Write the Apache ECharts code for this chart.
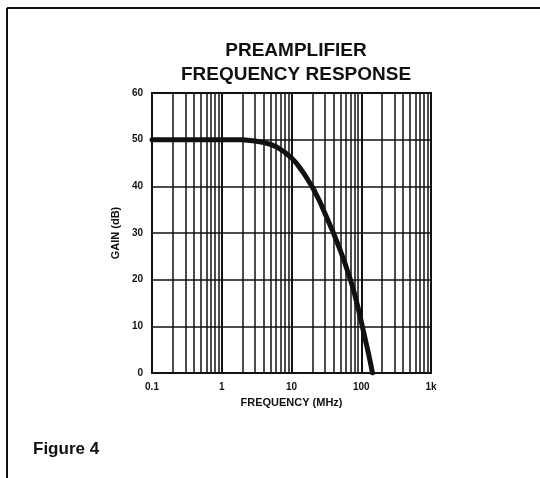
<!DOCTYPE html>
<html>
<head>
<meta charset="utf-8">
<script src="https://cdn.jsdelivr.net/npm/echarts@6/dist/echarts.min.js"></script>
<style>
html,body{margin:0;padding:0;background:#fff;}
#chart{width:540px;height:478px;}
</style>
</head>
<body>
<div id="chart"></div>
<script>
// Data
const freqMHz = [0.1, 0.5, 1, 2, 3, 4, 5, 6, 7, 8, 10, 12, 15, 20, 25, 30, 40, 50, 60, 70, 80, 90, 100, 115, 130, 145];
const gainDb  = [50, 50, 50, 50, 49.7, 49.4, 49.0, 48.5, 47.9, 47.3, 46.1, 44.8, 42.8, 39.8, 37, 34.3, 30, 26.3, 23, 20, 17, 14, 11, 7, 3.5, 0];
const yTicks = [0, 10, 20, 30, 40, 50, 60];
const xTickLabels = {0.1: '0.1', 1: '1', 10: '10', 100: '100', 1000: '1k'};
const minorFreqs = [0.2,0.3,0.4,0.5,0.6,0.7,0.8,0.9, 2,3,4,5,6,7,8,9, 20,30,40,50,60,70,80,90, 200,300,400,500,600,700,800,900];

const FONT = "'Liberation Sans', Arial, Helvetica, sans-serif";
const INK = '#111';

const chart = echarts.init(document.getElementById('chart'), null, {renderer: 'canvas'});
chart.setOption({
  animation: false,
  backgroundColor: '#fff',
  title: {
    text: 'PREAMPLIFIER\nFREQUENCY RESPONSE',
    left: 291, top: 34, textAlign: 'center',
    textStyle: {fontFamily: FONT, fontWeight: 'bold', fontSize: 19, lineHeight: 24, color: INK}
  },
  graphic: [
    {type: 'line', shape: {x1: 7, y1: 8, x2: 540, y2: 8}, style: {stroke: INK, lineWidth: 2}},
    {type: 'line', shape: {x1: 7, y1: 8, x2: 7, y2: 478}, style: {stroke: INK, lineWidth: 2}},
    {type: 'text', left: 33, top: 441, style: {text: 'Figure 4', font: "bold 17px 'Liberation Sans', Arial, sans-serif", fill: INK}}
  ],
  grid: {left: 152, top: 93, right: 109, bottom: 105, show: true, borderColor: INK, borderWidth: 2, backgroundColor: 'transparent'},
  xAxis: {
    type: 'log', logBase: 10, min: 0.1, max: 1000,
    name: 'FREQUENCY (MHz)', nameLocation: 'middle', nameGap: 24,
    nameTextStyle: {fontFamily: FONT, fontWeight: 'bold', fontSize: 11, color: INK},
    axisLine: {show: true, lineStyle: {color: INK, width: 2}},
    axisTick: {show: false},
    axisLabel: {fontFamily: FONT, fontWeight: 'bold', fontSize: 10, color: INK, margin: 9,
      formatter: v => xTickLabels[Math.round(v*10)/10] ?? String(v)},
    splitLine: {show: true, lineStyle: {color: INK, width: 2}}
  },
  yAxis: {
    type: 'value', min: yTicks[0], max: yTicks[yTicks.length-1], interval: 10,
    name: 'GAIN (dB)', nameLocation: 'middle', nameGap: 26,
    nameTextStyle: {fontFamily: FONT, fontWeight: 'bold', fontSize: 11, color: INK},
    axisLine: {show: true, lineStyle: {color: INK, width: 2}},
    axisTick: {show: false},
    axisLabel: {fontFamily: FONT, fontWeight: 'bold', fontSize: 10, color: INK, margin: 9},
    splitLine: {show: true, lineStyle: {color: INK, width: 1.5}}
  },
  series: [
    {
      type: 'line', data: [], silent: true,
      markLine: {
        silent: true, symbol: ['none','none'], label: {show: false},
        lineStyle: {color: INK, width: 1.5, type: 'solid'},
        emphasis: {disabled: true},
        data: minorFreqs.map(f => ({xAxis: f}))
      }
    },
    {
      type: 'line', name: 'Gain',
      data: freqMHz.map((f, i) => [f, gainDb[i]]),
      smooth: false, showSymbol: false, symbol: 'none',
      lineStyle: {color: INK, width: 5, cap: 'round', join: 'round'},
      z: 5
    }
  ]
});
</script>
</body>
</html>
